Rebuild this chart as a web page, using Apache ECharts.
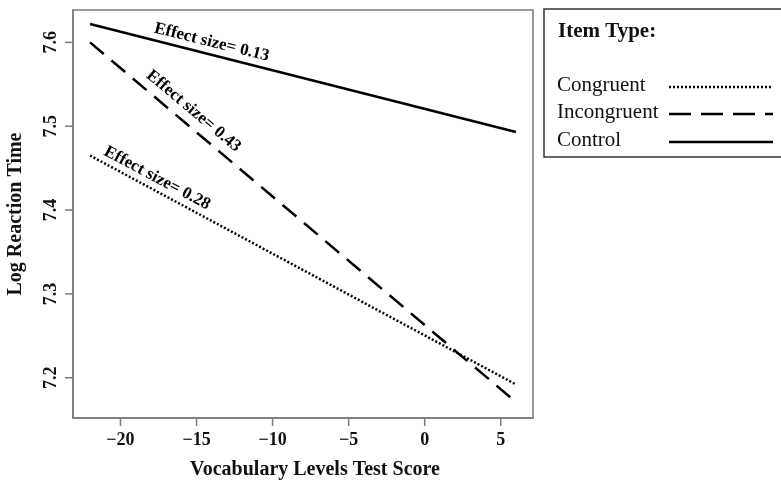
<!DOCTYPE html>
<html>
<head>
<meta charset="utf-8">
<script src="https://cdn.jsdelivr.net/npm/echarts@6/dist/echarts.min.js"></script>
<style>
html,body{margin:0;padding:0;background:#fff;}
#chart{width:781px;height:484px;}
</style>
</head>
<body>
<div id="chart"></div>
<script>
// ---- data ----
const xValues = [-22, 6];
const congruent = [7.465, 7.192];
const incongruent = [7.600, 7.171];
const control = [7.622, 7.493];
const xTicks = [-20, -15, -10, -5, 0, 5];
const yTicks = [7.2, 7.3, 7.4, 7.5, 7.6];
const seriesNames = ['Congruent', 'Incongruent', 'Control'];
const annTexts = ['Effect size= 0.28', 'Effect size= 0.43', 'Effect size= 0.13'];
const annX = [-17.6, -15.2, -14.0];
const annY = [7.438, 7.518, 7.600];
const annAngle = [-28, -40, -14];

const serif = '"Liberation Serif", "DejaVu Serif", serif';
const boxColor = '#7a7a7a';
const xMin = -23.12, xMax = 7.12, yMin = 7.152, yMax = 7.6386;

function pairs(ys) { return xValues.map((x, i) => [x, ys[i]]); }
function fmtMinus(v) { return String(v).replace('-', '\u2212'); }

const chart = echarts.init(document.getElementById('chart'));
const lineSeries = (name, ys, type) => ({
  name, type: 'line', data: pairs(ys), symbol: 'none', silent: true,
  lineStyle: { color: '#000', width: 2.5, type: type, cap: 'butt' }
});

const annSeries = annTexts.map((t, i) => ({
  type: 'scatter', symbolSize: 0, silent: true,
  itemStyle: { color: '#000', opacity: 1 },
  data: [[annX[i], annY[i]]],
  label: {
    show: true, position: 'inside', formatter: t, rotate: annAngle[i], opacity: 1,
    fontFamily: serif, fontWeight: 'bold', fontSize: 17, color: '#000'
  }
}));

// legend graphic
const lgLeft = 544, lgTop = 9;
const lgRows = [85, 112, 140];
const lgDash = [[2, 2], [22, 10], null];
const legendGraphic = [
  { type: 'rect', shape: { x: lgLeft, y: lgTop, width: 260, height: 148 },
    style: { fill: '#fff', stroke: '#333', lineWidth: 1.5 } },
  { type: 'text', x: 558, y: 32, style: { text: 'Item Type:', font: 'bold 21px ' + serif, fill: '#111', textVerticalAlign: 'middle' } }
];
seriesNames.forEach((n, i) => {
  legendGraphic.push({ type: 'text', x: 557, y: lgRows[i], style: { text: n, font: '21px ' + serif, fill: '#111', textVerticalAlign: 'middle' } });
  legendGraphic.push({ type: 'line', shape: { x1: 669, y1: lgRows[i] + 2, x2: 773, y2: lgRows[i] + 2 },
    style: { stroke: '#000', lineWidth: 2.5, lineDash: lgDash[i] || null } });
});

chart.setOption({
  animation: false,
  backgroundColor: '#fff',
  grid: { left: 73, right: 248, top: 10, bottom: 66, show: true, borderColor: boxColor, borderWidth: 1.5,
    backgroundColor: 'transparent', outerBoundsMode: 'none', containLabel: false },
  xAxis: {
    type: 'value', min: xMin, max: xMax,
    name: 'Vocabulary Levels Test Score', nameLocation: 'middle', nameGap: 42,
    nameTextStyle: { fontFamily: serif, fontWeight: 'bold', fontSize: 20, color: '#111', padding: [0, 0, 0, 24] },
    axisLine: { show: true, onZero: false, lineStyle: { color: boxColor, width: 1.5 } },
    splitLine: { show: false },
    axisTick: { show: false },
    axisLabel: { customValues: xTicks, formatter: fmtMinus, margin: 13, fontFamily: serif, fontWeight: 'bold', fontSize: 18, color: '#111' }
  },
  yAxis: {
    type: 'value', min: yMin, max: yMax,
    name: 'Log Reaction Time', nameLocation: 'middle', nameGap: 47, nameRotate: 90,
    nameTextStyle: { fontFamily: serif, fontWeight: 'bold', fontSize: 20, color: '#111' },
    axisLine: { show: true, onZero: false, lineStyle: { color: boxColor, width: 1.5 } },
    splitLine: { show: false },
    axisTick: { show: false },
    axisLabel: { customValues: yTicks, rotate: 90, margin: 13, fontFamily: serif, fontWeight: 'bold', fontSize: 18, color: '#111',
      formatter: v => v.toFixed(1) }
  },
  series: [
    lineSeries(seriesNames[0], congruent, [2, 2]),
    lineSeries(seriesNames[1], incongruent, [18, 10]),
    lineSeries(seriesNames[2], control, 'solid')
  ].concat(annSeries),
  graphic: legendGraphic
});

// tick marks positioned through the chart's own scales
const tickGraphic = [];
const cornerPx = chart.convertToPixel({ gridIndex: 0 }, [xMin, yMin]);
xTicks.forEach(v => {
  const p = chart.convertToPixel({ gridIndex: 0 }, [v, yMin]);
  tickGraphic.push({ type: 'line', silent: true, z: 50,
    shape: { x1: p[0], y1: cornerPx[1], x2: p[0], y2: cornerPx[1] + 8 },
    style: { stroke: boxColor, lineWidth: 1.5 } });
});
yTicks.forEach(v => {
  const p = chart.convertToPixel({ gridIndex: 0 }, [xMin, v]);
  tickGraphic.push({ type: 'line', silent: true, z: 50,
    shape: { x1: cornerPx[0], y1: p[1], x2: cornerPx[0] - 8, y2: p[1] },
    style: { stroke: boxColor, lineWidth: 1.5 } });
});
chart.setOption({ graphic: legendGraphic.concat(tickGraphic) });
</script>
</body>
</html>
